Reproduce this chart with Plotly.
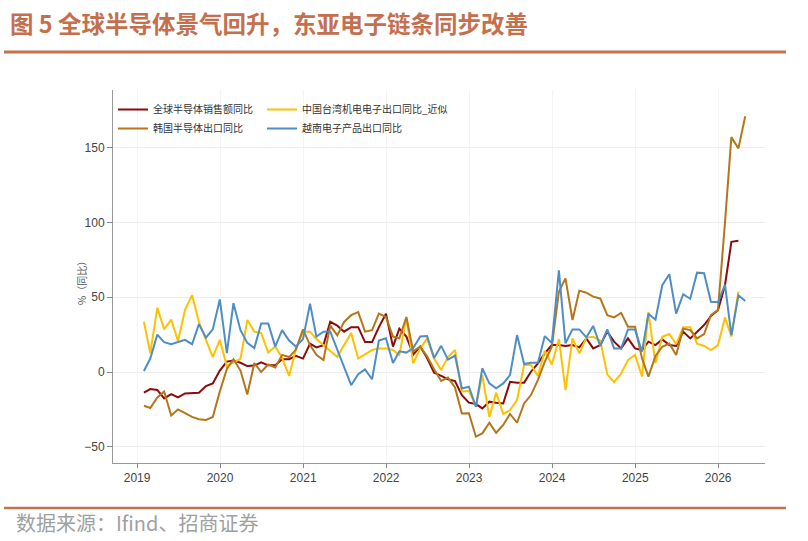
import pandas as pd
import plotly.graph_objects as go

# ---------------- data ----------------
dates = pd.date_range("2019-01-31", periods=88, freq="ME").strftime("%Y-%m-%d").tolist()

global_semi = [-13.8, -11.4, -12, -17.6, -14.7, -17, -14.3, -14.3, -13.8, -9.4,
               -7.6, 1, 7, 7.7, 6.2, 4, 4.3, 6.5, 4.5, 4.5,
               8.5, 8.6, 10.8, 9, 19, 16.5, 18, 33.6, 31, 27,
               30, 30, 20, 20, 30, 39, 17, 29, 23.7, 11.6,
               17, 9.4, -0.4, -2.6, -4.8, -6, -15.4, -20.5, -21.4, -24.3,
               -19.8, -20.5, -21, -6.5, -7.1, -7.1, 0.2, 5.8, 12.5, 18,
               18, 17.4, 18, 16.5, 22.5, 15.8, 18, 27, 20.3, 15.8,
               22.5, 15.8, 14.7, 20.3, 18, 21.8, 18, 17.4, 27, 22.5,
               27, 31.4, 37.4, 41.4, 58, 87, 87.8]

taiwan_elec = [33.6, 12.6, 43, 28.5, 35, 20.7, 41.5, 51.3, 33.5, 21,
               10, 21.5, 3.8, 6.5, 8.7, 34.8, 27, 26, 13, 17,
               9.5, -2.5, 15.4, 27, 27, 22, 18, 14, 10, 18,
               26, 9, 12, 14.7, 15.8, 15.8, 14.7, 11.4, 36, 5.8,
               15.8, 22.5, 9, 1.3, 10, 14.7, -13, -12.5, -23, -2,
               -30, -13.8, -28, -25.4, -18.7, 4.7, 4.7, -2.7, 14.2, 5,
               22, -12, 22.5, 12.5, 23, 23.6, 21, -1.5, -6.8, -1,
               8, 11.4, -3, 40, 6, 23.6, 25.4, 18.7, 30, 30,
               19, 17.4, 14.7, 18, 36.5, 23.6, 53.7]

korea_semi = [-22.5, -24, -17, -13, -29, -25, -27.5, -30, -31.5, -32,
              -30, -13, 2, 8.5, 1, -15, 6, 0, 5, 3,
              11.5, 10, 15, 28.5, 18, 11.5, 8, 31, 24.5, 33.5,
              38, 40, 27, 28, 39, 36.8, 23.7, 22.6, 36.8, 13.8,
              17, 10.5, 1.8, -6, -3.7, -10.3, -27.7, -27.6, -43.2, -41,
              -33.9, -40.6, -35.4, -28, -33.9, -21, -15.4, -5.3, 6.9, 17,
              53.7, 62.6, 34.8, 54.4, 53, 50.4, 49.2, 38, 36.5, 39.5,
              30.3, 30.3, 9.1, -3.1, 10.7, 16.9, 19, 11.4, 29, 28,
              22.5, 25.4, 38, 41.4, 100, 157, 149.5, 171]

vietnam_elec = [0.7, 9, 25, 20, 18.6, 20, 21.5, 18.6, 32, 23,
                28.5, 48.5, 12.7, 46, 28, 19.5, 16, 32.5, 32.5, 17,
                28, 21, 17, 22, 45.6, 23.7, 27, 27, 15, 3,
                -8.8, -1.5, 1.8, -4.8, 21, 22.6, 6, 13.8, 13, 16,
                23.7, 24, 9.4, 17.5, 8.3, 11, -11, -9.8, -23.2, 2.5,
                -7.6, -10.9, -7.6, -2, 24.7, 5.3, 6.2, 6.2, 24, 19.4,
                68, 19.2, 28.5, 28.5, 23.2, 30.8, 17.4, 28.5, 15.8, 15.8,
                28.5, 28.5, 13.6, 39, 35, 58, 65.4, 39, 52, 49,
                66.4, 66, 47, 46.6, 58.4, 24.7, 51.3, 47.5]

# name, values, colour, legend column
series = [
    ("全球半导体销售额同比", global_semi, "#8B0A0A", "legend"),
    ("中国台湾机电电子出口同比_近似", taiwan_elec, "#FFC000", "legend2"),
    ("韩国半导体出口同比", korea_semi, "#B5761B", "legend"),
    ("越南电子产品出口同比", vietnam_elec, "#4E8EC4", "legend2"),
]

year_ticks = ["2019-01-01", "2020-01-01", "2021-01-01", "2022-01-01",
              "2023-01-01", "2024-01-01", "2025-01-01", "2026-01-01"]
year_labels = ["2019", "2020", "2021", "2022", "2023", "2024", "2025", "2026"]
y_ticks = [-50, 0, 50, 100, 150]

title_text = "图 5 全球半导体景气回升，东亚电子链条同步改善"
source_text = "数据来源：Ifind、招商证券"
y_title = "%（同比）"

# ---------------- figure ----------------
fig = go.Figure()
for name, vals, color, lg in series:
    fig.add_trace(go.Scatter(
        x=dates[:len(vals)], y=vals, mode="lines", name=name,
        line=dict(color=color, width=2), legend=lg,
    ))

W, H = 808, 541
L, R, T, B = 113, 43, 90, 78
pw, ph = W - L - R, H - T - B

def px(x):
    return (x - L) / pw

def py(y):
    return (H - B - y) / ph

narrow = "Liberation Sans Narrow, Arial Narrow, Liberation Sans, sans-serif"
cjk = "Noto Sans CJK SC, sans-serif"
accent = "#C8714D"

legend_common = dict(
    orientation="v", yanchor="top", xanchor="left",
    font=dict(family=cjk, size=10, color="#333333"),
    bgcolor="rgba(0,0,0,0)", itemwidth=30, tracegroupgap=0,
)

fig.update_layout(
    width=W, height=H,
    margin=dict(l=L, r=R, t=T, b=B, pad=0),
    paper_bgcolor="white", plot_bgcolor="white",
    showlegend=True,
    legend=dict(x=px(113), y=py(95), **legend_common),
    legend2=dict(x=px(262), y=py(95), **legend_common),
    title=dict(
        text="<b>" + title_text + "</b>", xref="container", yref="container",
        x=10 / W, xanchor="left", y=1 - 25 / H, yanchor="middle",
        font=dict(family=cjk, size=23.5, color="#C4704F"),
    ),
    xaxis=dict(
        type="date", range=["2018-09-17", "2026-07-26"],
        tickvals=year_ticks, ticktext=year_labels,
        ticks="outside", ticklen=4, tickcolor="#888888",
        showline=True, linecolor="#999999", linewidth=1,
        showgrid=True, gridcolor="#F4F4F4", gridwidth=1,
        zeroline=False,
        tickfont=dict(family=narrow, size=12, color="#444444"),
    ),
    yaxis=dict(
        range=[-60.8, 188.5], tickvals=y_ticks,
        ticks="outside", ticklen=5, tickcolor="#888888",
        showline=True, linecolor="#999999", linewidth=1,
        showgrid=True, gridcolor="#EDEDED", gridwidth=1,
        zeroline=False,
        tickfont=dict(family=narrow, size=12, color="#444444"),
    ),
    shapes=[
        dict(type="line", xref="paper", yref="paper", x0=px(4), x1=px(786),
             y0=py(52), y1=py(52), line=dict(color=accent, width=3)),
        dict(type="line", xref="paper", yref="paper", x0=px(4), x1=px(786),
             y0=py(508), y1=py(508), line=dict(color=accent, width=2.5)),
    ],
    annotations=[
        dict(text=y_title, xref="paper", yref="paper", x=px(81), y=py(281),
             xanchor="center", yanchor="middle", textangle=-90, showarrow=False,
             font=dict(family=cjk, size=10, color="#555555")),
        dict(text=source_text, xref="paper", yref="paper", x=px(14), y=py(522),
             xanchor="left", yanchor="middle", showarrow=False,
             font=dict(family=cjk, size=20, color="#A0A0A0")),
    ],
)

fig.write_html("out.html")
